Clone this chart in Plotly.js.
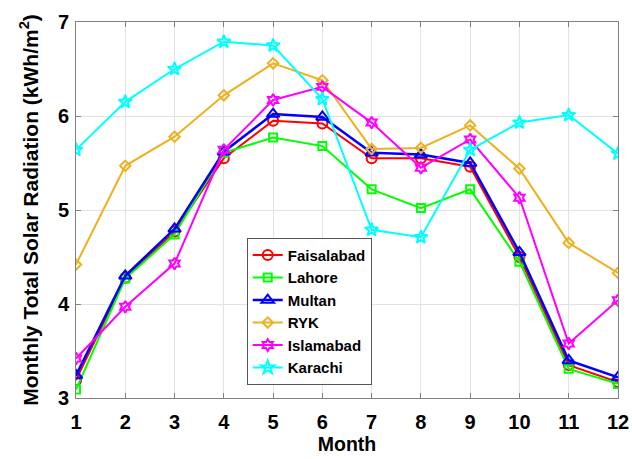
<!DOCTYPE html>
<html><head><meta charset="utf-8">
<script src="https://cdn.plot.ly/plotly-3.0.1.min.js"></script>
<style>body{margin:0;padding:0;background:#fff}#chart{width:632px;height:459px}</style>
</head><body><div id="chart"></div>
<script>
const months = [1,2,3,4,5,6,7,8,9,10,11,12];
const faisalabad = [3.19,4.28,4.77,5.55,5.95,5.92,5.55,5.55,5.46,4.50,3.35,3.17];
const lahore     = [3.09,4.27,4.74,5.61,5.77,5.68,5.22,5.02,5.22,4.45,3.31,3.15];
const multan     = [3.24,4.30,4.80,5.62,6.02,5.99,5.61,5.59,5.50,4.55,3.40,3.22];
const ryk        = [4.42,5.47,5.78,6.22,6.56,6.38,5.65,5.66,5.90,5.44,4.65,4.33];
const islamabad  = [3.42,3.97,4.43,5.64,6.17,6.31,5.93,5.45,5.75,5.13,3.58,4.04];
const karachi    = [5.64,6.15,6.50,6.79,6.75,6.18,4.79,4.71,5.64,5.93,6.01,5.60];
const names = ["Faisalabad","Lahore","Multan","RYK","Islamabad","Karachi"];
const series = [faisalabad,lahore,multan,ryk,islamabad,karachi];
const colors = ["#ff0000","#00ff00","#0000ff","#EDB120","#ff00ff","#00ffff"];
const symbols = ["circle-open","square-open","triangle-up-open","diamond-open","hexagram-open","star-open"];
const sizes = [10,8,11,8,9,10];
const traces = series.map((y,i)=>({
  x: months, y: y, name: names[i], type:"scatter", mode:"lines+markers",
  line:{color:colors[i], width: i===2?2.5:2},
  marker:{symbol:symbols[i], size:sizes[i], color:colors[i], line:{color:colors[i], width:2}}
}));
const FONT = "Arial, Liberation Sans, sans-serif";
const axisCommon = {showline:true, linecolor:"#808080", linewidth:1, mirror:"ticks",
  ticks:"inside", ticklen:5, tickcolor:"#808080", showgrid:true, gridcolor:"#e3e3e3", zeroline:false,
  tickfont:{family:FONT, size:20, color:"#000", weight:"bold"}};
const layout = {
  width:632, height:459, margin:{l:76,r:14,t:22,b:61},
  paper_bgcolor:"#fff", plot_bgcolor:"#fff",
  xaxis: Object.assign({}, axisCommon, {range:[1,12], tickvals:months, ticktext:months.map(String), ticklabelstandoff:6,
    title:{text:"<b>Month</b>", font:{family:FONT, size:19.5, color:"#000"}, standoff:5}}),
  yaxis: Object.assign({}, axisCommon, {range:[3,7], tickvals:[3,4,5,6,7], ticktext:["3","4","5","6","7"], ticklabelstandoff:2,
    title:{text:"<b>Monthly Total Solar Radiation (kWh/m<sup>2</sup>)</b>", font:{family:FONT, size:21, color:"#000"}, standoff:13}}),
  showlegend:true,
  legend:{x:0.315, y:0.426, xanchor:"left", yanchor:"top", bgcolor:"#fff", bordercolor:"#555", borderwidth:1,
    font:{family:FONT, size:15, color:"#000", weight:"bold"}, tracegroupgap:0, itemwidth:30}
};
Plotly.newPlot("chart", traces, layout, {displayModeBar:false, staticPlot:true});
</script></body></html>
